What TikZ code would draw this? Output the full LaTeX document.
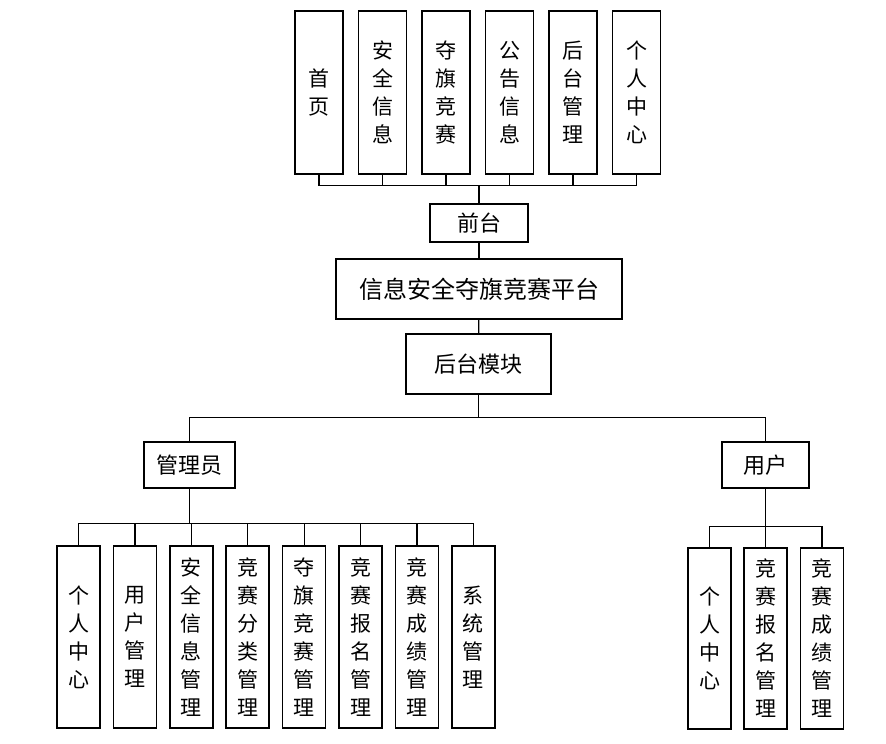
\documentclass[tikz,border=0pt]{standalone}
\usepackage{fontspec}
\setmainfont{Noto Sans CJK SC}
\usetikzlibrary{positioning}

\begin{document}
\begin{tikzpicture}[x=1pt, y=-1pt,
    box/.style={draw, line width=1.5pt, inner sep=0pt, minimum height=46pt,
      font=\fontsize{22}{26}\selectfont},
    colbox/.style={box, align=center, minimum width=43pt, minimum height=182pt,
      font=\fontsize{21}{28}\selectfont},
    link/.style={line width=1.2pt}]
    \useasboundingbox (0,0) rectangle (886,744);
    % front end
    \foreach \txt [count=\i] in {{首\\页}, {安\\全\\信\\息}, {夺\\旗\\竞\\赛},
        {公\\告\\信\\息}, {后\\台\\管\\理}, {个\\人\\中\\心}}
        \node[colbox, minimum width=48pt, minimum height=163pt] (t\i)
            at ({319+63.5*(\i-1)}, 92.5) {\txt};
    \node[box, minimum width=98pt, minimum height=38pt] (qt) at (479, 223) {前台};
    \foreach \i in {1,...,6}
        \draw[link] (t\i.south) -- ++(0,11) -| (qt.north);
    \node[box, minimum width=286pt, minimum height=60pt,
        font=\fontsize{24}{28}\selectfont] (pt) at (479, 289) {信息安全夺旗竞赛平台};
    \node[box, minimum width=145pt, minimum height=60pt] (ht) at (478.5, 364) {后台模块};
    \draw[link] (qt) -- (pt);
    \draw[link] (pt) -- (ht);
    % back end
    \node[box, minimum width=91pt] (gly) at (189.5, 465) {管理员};
    \node[box, minimum width=87pt] (yh) at (765.5, 465) {用户};
    \draw[link] (ht.south) -- ++(0,23) -| (gly.north);
    \draw[link] (ht.south) -- ++(0,23) -| (yh.north);
    \foreach \txt [count=\i] in {{个\\人\\中\\心}, {用\\户\\管\\理}, {安\\全\\信\\息\\管\\理},
        {竞\\赛\\分\\类\\管\\理}, {夺\\旗\\竞\\赛\\管\\理}, {竞\\赛\\报\\名\\管\\理},
        {竞\\赛\\成\\绩\\管\\理}, {系\\统\\管\\理}}
    {
        \node[colbox] (a\i) at ({78.5+56.4*(\i-1)}, 637) {\txt};
        \draw[link] (gly.south) -- ++(0,35) -| (a\i.north);
    }
    \foreach \txt/\x [count=\i] in {{个\\人\\中\\心}/709.5, {竞\\赛\\报\\名\\管\\理}/765.5,
        {竞\\赛\\成\\绩\\管\\理}/822}
    {
        \node[colbox, minimum height=181pt] (u\i) at (\x, 638.5) {\txt};
        \draw[link] (yh.south) -- ++(0,38) -| (u\i.north);
    }
\end{tikzpicture}
\end{document}
